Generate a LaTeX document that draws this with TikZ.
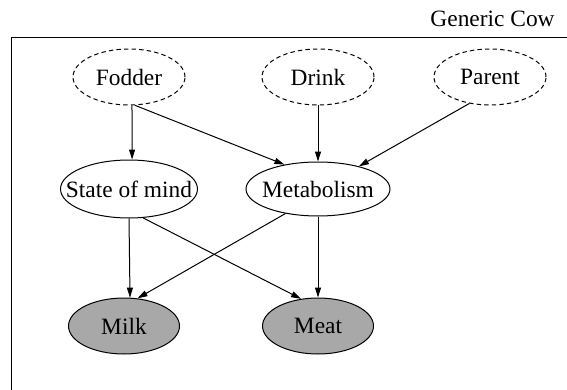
\documentclass[tikz,border=0pt]{standalone}
\usepackage{fontspec}
\setmainfont{Liberation Serif}
\usepackage{xcolor}
\usetikzlibrary{shapes.geometric, arrows.meta, positioning}
\definecolor{observed}{RGB}{168,168,168}

\begin{document}
\begin{tikzpicture}[
    on grid,
    font=\fontsize{11.7}{14}\selectfont,
    var/.style={ellipse, draw, line width=0.5pt, inner xsep=-8pt, inner ysep=0pt, minimum width=56pt, minimum height=28pt},
    hidden/.style={var, dash pattern=on 2.2pt off 1.6pt},
    obs/.style={var, fill=observed},
    arrow/.style={line width=0.5pt, -{Triangle[length=5pt,width=3pt]}}
]

\useasboundingbox (0pt,0pt) rectangle (283.5pt,-195pt);

% Frame
\draw [line width=0.5pt] (5.5pt,-19pt) rectangle (300pt,-215pt);
\node (title) [anchor=base east, inner sep=0pt] at (277.5pt,-13.5pt) {Generic Cow};

% Nodes
\node (fodder) [hidden] at (64.5pt,-38.5pt) {Fodder};
\node (drink) [hidden, right=94.5pt of fodder] {Drink};
\node (parent) [hidden, right=86pt of drink] {Parent};

\node (mind) [var, minimum width=68.5pt, minimum height=29pt, below=56pt of fodder] {State of mind};
\node (metab) [var, minimum width=72pt, minimum height=27pt, below=56pt of drink] {Metabolism};

\node (milk) [obs, minimum width=55.5pt, below=68.5pt of mind, xshift=-2.5pt] {Milk};
\node (meat) [obs, minimum width=55.5pt, below=68.5pt of metab] {Meat};

% Arrows
\draw [arrow] (fodder.-84) -- (mind.84);
\draw [arrow] (fodder.-78) -- (metab.144);
\draw [arrow] (drink) -- (metab);
\draw [arrow] (parent.232) -- (metab.29);

\draw [arrow] (mind.-90) -- (milk.78);
\draw [arrow] (mind.-64) -- (meat.122);
\draw [arrow] (metab.217) -- (milk.64);
\draw [arrow] (metab) -- (meat);

\end{tikzpicture}
\end{document}
